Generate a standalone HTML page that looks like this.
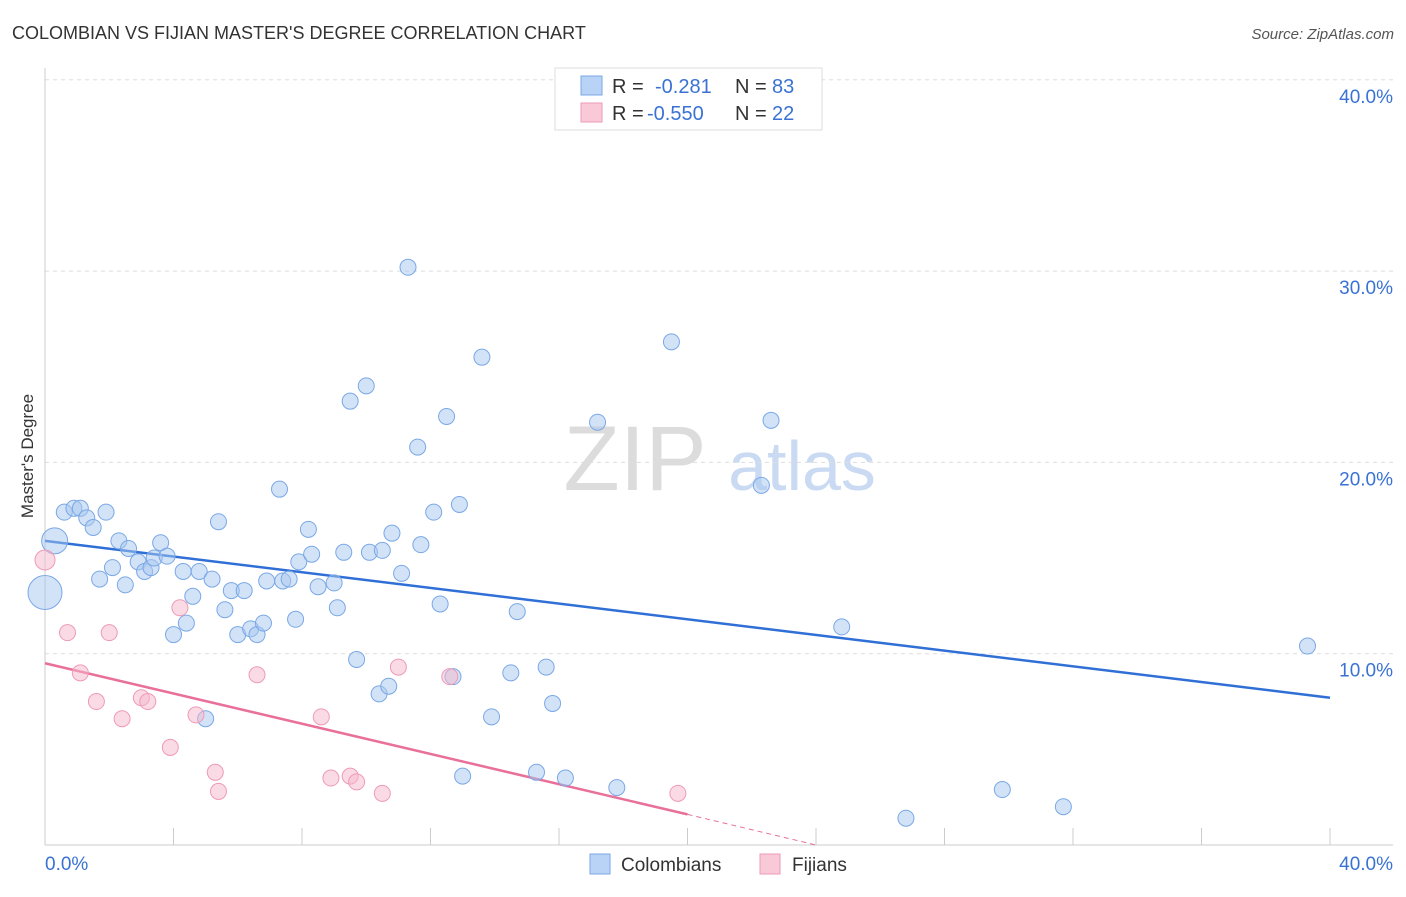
<!DOCTYPE html>
<html><head><meta charset="utf-8"><style>
body{margin:0;background:#fff;font-family:"Liberation Sans",sans-serif;}
svg text{font-family:"Liberation Sans",sans-serif;}
</style></head><body>
<svg id="chart" width="1406" height="892" viewBox="0 0 1406 892">
<text x="12" y="39" font-size="18" fill="#333">COLOMBIAN VS FIJIAN MASTER'S DEGREE CORRELATION CHART</text>
<text x="1394" y="39" font-size="15" fill="#555" font-style="italic" text-anchor="end">Source: ZipAtlas.com</text>
<text x="33" y="456" font-size="17" fill="#333" text-anchor="middle" transform="rotate(-90 33 456)">Master's Degree</text>
<g>
<text x="635" y="490" font-size="92" fill="#dcdcdc" font-family="Liberation Serif" text-anchor="middle">ZIP</text>
<text x="802" y="490" font-size="70" fill="#c9daf2" text-anchor="middle">atlas</text>
</g>
<g id="grid"></g><g id="axes"></g><g id="lines"></g><g id="pts"></g>
<g>
<rect x="555" y="68" width="267" height="62" fill="#fff" stroke="#ddd"/>
<rect x="581" y="76" width="21" height="19" fill="#b8d3f5" stroke="#7aa8e6"/>
<text x="612" y="93" font-size="20" fill="#333">R = </text><text x="655" y="93" font-size="20" fill="#3a72d4">-0.281</text>
<text x="735" y="93" font-size="20" fill="#333">N = </text><text x="772" y="93" font-size="20" fill="#3a72d4">83</text>
<rect x="581" y="103" width="21" height="19" fill="#f9c9d8" stroke="#ee9ab7"/>
<text x="612" y="120" font-size="20" fill="#333">R = </text><text x="647" y="120" font-size="20" fill="#3a72d4">-0.550</text>
<text x="735" y="120" font-size="20" fill="#333">N = </text><text x="772" y="120" font-size="20" fill="#3a72d4">22</text>
</g>
<g>
<rect x="590" y="854" width="20" height="20" fill="#b8d3f5" stroke="#7aa8e6"/>
<text x="621" y="871" font-size="19" fill="#333">Colombians</text>
<rect x="760" y="854" width="20" height="20" fill="#f9c9d8" stroke="#ee9ab7"/>
<text x="792" y="871" font-size="19" fill="#333">Fijians</text>
</g>
</svg>
<script>
const yTicks=[10,20,30,40];
const xTickLabels=["0.0%","40.0%"];
const blueX=[0.0,0.3,0.6,0.9,1.1,1.3,1.5,1.9,1.7,2.1,2.3,2.5,2.6,2.9,3.1,3.3,3.4,3.6,3.8,4.0,4.3,4.4,4.6,4.8,5.0,5.2,5.4,5.6,5.8,6.0,6.2,6.4,6.6,6.8,6.9,7.3,7.4,7.6,7.8,7.9,8.2,8.3,8.5,9.0,9.1,9.3,9.5,9.7,10.0,10.1,10.4,10.5,10.7,10.8,11.3,11.6,11.7,11.1,12.1,12.3,12.5,12.7,12.9,13.0,13.6,13.9,14.5,14.7,15.3,15.6,15.8,16.2,17.2,17.8,19.5,22.3,22.6,24.8,26.8,29.8,31.7,39.3];
const blueY=[13.2,15.9,17.4,17.6,17.6,17.1,16.6,17.4,13.9,14.5,15.9,13.6,15.5,14.8,14.3,14.5,15.0,15.8,15.1,11.0,14.3,11.6,13.0,14.3,6.6,13.9,16.9,12.3,13.3,11.0,13.3,11.3,11.0,11.6,13.8,18.6,13.8,13.9,11.8,14.8,16.5,15.2,13.5,13.7,12.4,15.3,23.2,9.7,24.0,15.3,7.9,15.4,8.3,16.3,30.2,20.8,15.7,14.2,17.4,12.6,22.4,8.8,17.8,3.6,25.5,6.7,9.0,12.2,3.8,9.3,7.4,3.5,22.1,3.0,26.3,18.8,22.2,11.4,1.4,2.9,2.0,10.4];
const blueR=[17,13];
const pinkX=[0.0,0.7,1.1,1.6,2.0,2.4,3.0,3.2,3.9,4.2,4.7,5.3,5.4,6.6,8.6,8.9,9.5,9.7,10.5,11.0,12.6,19.7];
const pinkY=[14.9,11.1,9.0,7.5,11.1,6.6,7.7,7.5,5.1,12.4,6.8,3.8,2.8,8.9,6.7,3.5,3.6,3.3,2.7,9.3,8.8,2.7];
const blueFit=[15.9,7.7];
const pinkFit=[9.5,1.6,20.0,24.0];
const NS="http://www.w3.org/2000/svg";
const sx=v=>45+v*32.125, sy=v=>845-v*19.13;
function mk(t,a,p){const e=document.createElementNS(NS,t);for(const k in a)e.setAttribute(k,a[k]);document.getElementById(p).appendChild(e);return e;}
yTicks.forEach(t=>{
 const l=mk('line',{x1:45,x2:1393,y1:sy(t),y2:sy(t),stroke:'#ddd','stroke-dasharray':'4,4'},'grid');
 
 
 const tx=mk('text',{x:1393,y:sy(t)+23,'font-size':19,fill:'#3a72d4','text-anchor':'end'},'grid');tx.textContent=t.toFixed(1)+'%';
 
 
});
const ax=mk('line',{x1:45,x2:1393,y1:845,y2:845,stroke:'#ccc'},'axes');


const ay=mk('line',{x1:45,x2:45,y1:68,y2:845,stroke:'#ccc'},'axes');


for(let i=0;i<=10;i++){const t=mk('line',{x1:sx(i*4),x2:sx(i*4),y1:828,y2:845,stroke:'#ccc'},'axes');
 
 }
const xl0=mk('text',{x:45,y:870,'font-size':19,fill:'#3a72d4'},'axes');xl0.textContent=xTickLabels[0];


const xl1=mk('text',{x:1393,y:870,'font-size':19,fill:'#3a72d4','text-anchor':'end'},'axes');xl1.textContent=xTickLabels[1];


blueX.forEach((x,i)=>{const c=mk('circle',{cx:sx(x),cy:sy(blueY[i]),r:blueR[i]||8,fill:'rgba(168,200,240,0.5)',stroke:'#7aa8e6','stroke-width':1},'pts');
 
 });
pinkX.forEach((x,i)=>{const c=mk('circle',{cx:sx(x),cy:sy(pinkY[i]),r:i==0?10:8,fill:'rgba(245,184,204,0.5)',stroke:'#ee9ab7','stroke-width':1},'pts');
 
 });
const bl=mk('line',{x1:sx(0),y1:sy(blueFit[0]),x2:sx(40),y2:sy(blueFit[1]),stroke:'#2f6fd6','stroke-width':2.5},'lines');


const pl=mk('line',{x1:sx(0),y1:sy(pinkFit[0]),x2:sx(pinkFit[2]),y2:sy(pinkFit[1]),stroke:'#e8709a','stroke-width':2.5},'lines');


const pd=mk('line',{x1:sx(pinkFit[2]),y1:sy(pinkFit[1]),x2:sx(pinkFit[3]),y2:sy(0),stroke:'#e8709a','stroke-width':1,'stroke-dasharray':'5,4'},'lines');


</script>
</body></html>
